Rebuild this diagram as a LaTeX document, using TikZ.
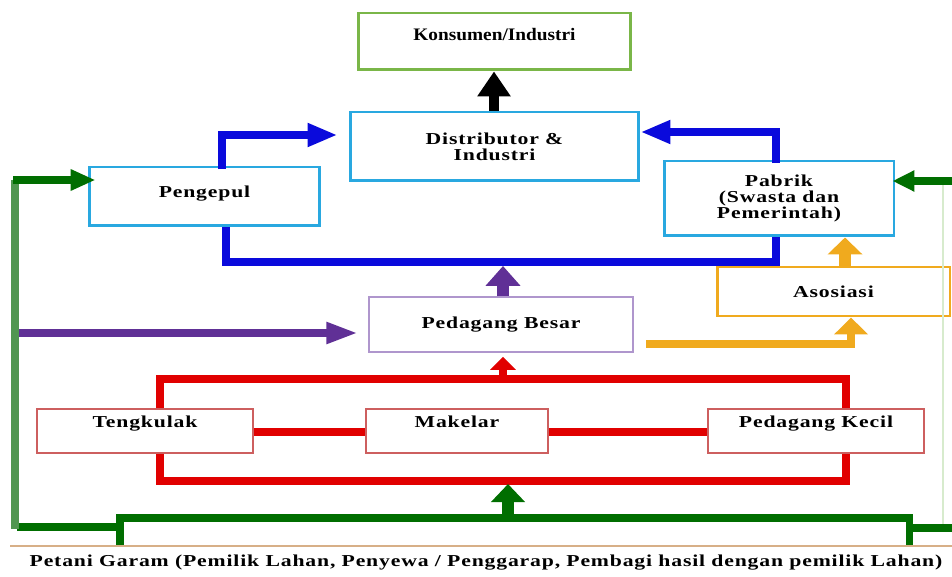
\documentclass[tikz,border=0pt]{standalone}
\usepackage{fontspec}
\setmainfont{Liberation Serif}
\newfontfamily\boxfont[FakeStretch=1.3,LetterSpace=5]{Liberation Serif}
\newfontfamily\topfont[FakeStretch=1.1]{Liberation Serif}
\usetikzlibrary{arrows.meta}

\definecolor{konsumgreen}{RGB}{122,182,72}
\definecolor{cyanbox}{RGB}{41,168,224}
\definecolor{flowblue}{RGB}{10,10,220}
\definecolor{flowpurple}{RGB}{96,48,150}
\definecolor{lavender}{RGB}{175,150,205}
\definecolor{floworange}{RGB}{240,170,30}
\definecolor{flowred}{RGB}{225,0,0}
\definecolor{redbox}{RGB}{205,95,95}
\definecolor{darkgreen}{RGB}{0,110,0}
\definecolor{midgreen}{RGB}{80,150,80}
\definecolor{palegreen}{RGB}{215,235,205}
\definecolor{tanline}{RGB}{215,175,135}

\tikzset{
    lbl/.style={text height=7pt,text depth=#1},
    lbl/.default=0.6pt
}

\begin{document}
\begin{tikzpicture}[x=0.02cm,y=-0.02cm]

    \useasboundingbox (0,0) rectangle (952,577);

    \begin{scope}[every node/.style={rectangle,draw,fill=white,inner sep=0pt,align=center,font=\boxfont\bfseries\fontsize{9.5}{9.2}\selectfont}]
        \node[draw=konsumgreen,line width=1.7pt,minimum width=5.46cm,minimum height=1.14cm,lbl=8pt,font=\topfont\bfseries\fontsize{10}{12}\selectfont] (konsumen) at (494.5,41.5) {Konsumen/Industri};
        \node[draw=cyanbox,line width=1.7pt,minimum width=5.78cm,minimum height=1.38cm] (distributor) at (494.5,146.5) {Distributor \&\\Industri};
        \node[draw=cyanbox,line width=1.7pt,minimum width=4.62cm,minimum height=1.18cm,lbl=5.8pt] (pengepul) at (204.5,196.5) {Pengepul};
        \node[draw=cyanbox,line width=1.7pt,minimum width=4.6cm,minimum height=1.5cm] (pabrik) at (779,198.5) {Pabrik\\(Swasta dan\\Pemerintah)};
        \node[draw=lavender,line width=0.9pt,minimum width=5.28cm,minimum height=1.1cm,lbl=2pt] (besar) at (501,324.5) {Pedagang Besar};
        \node[draw=floworange,line width=1.7pt,minimum width=4.66cm,minimum height=0.98cm,lbl] (asosiasi) at (833.5,291.5) {Asosiasi};
        \node[draw=redbox,line width=0.9pt,minimum width=4.32cm,minimum height=0.88cm,lbl=10.8pt] (tengkulak) at (145,431) {Tengkulak};
        \node[draw=redbox,line width=0.9pt,minimum width=3.64cm,minimum height=0.88cm,lbl=10.8pt] (makelar) at (457,431) {Makelar};
        \node[draw=redbox,line width=0.9pt,minimum width=4.32cm,minimum height=0.88cm,lbl=10.8pt] (kecil) at (816,431) {Pedagang Kecil};
        \node[draw=none,fill=none,lbl] (petani) at (486,561) {Petani Garam (Pemilik Lahan, Penyewa / Penggarap, Pembagi hasil dengan pemilik Lahan)};
    \end{scope}

    % Distributor ke konsumen
    \draw[line width=6.2pt,-{Triangle[length=0.5cm,width=0.64cm]}] (distributor.north -| 494,0) -- (konsumen.south -| 494,0);

    \begin{scope}[every path/.style={draw=flowblue,line width=4.5pt}]
        \draw[-{Triangle[length=0.6cm,width=0.44cm]},shorten >=0.22cm] ([yshift=-2pt]pengepul.north -| 222,0) |- (distributor.west |- 0,135);
        \draw[-{Triangle[length=0.6cm,width=0.44cm]}] ([yshift=-2pt]pabrik.north -| 776,0) |- (distributor.east |- 0,132);
        \draw (pengepul.south -| 226,0) |- (776,262) -- (pabrik.south -| 776,0);
    \end{scope}

    \begin{scope}[every path/.style={draw=flowpurple}]
        \draw[line width=6.8pt,-{Triangle[length=0.4cm,width=0.68cm]}] (besar.north -| 503,0) -- (503,266);
        \draw[line width=4.5pt,-{Triangle[length=0.64cm,width=0.4cm]},shorten >=0.2cm] (12,333) -- (besar.west |- 0,333);
    \end{scope}

    \begin{scope}[every path/.style={draw=floworange}]
        \draw[line width=6.8pt,-{Triangle[length=0.34cm,width=0.68cm]}] (asosiasi.north -| 845,0) -- (pabrik.south -| 845,0);
        \draw[line width=4.5pt,-{Triangle[length=0.34cm,width=0.66cm]}] (646,344) -| (asosiasi.south -| 851,0);
    \end{scope}

    \begin{scope}[every path/.style={draw=flowred,line width=4.5pt}]
        \draw (tengkulak.north -| 160,0) |- (846,379) -- (kecil.north -| 846,0);
        \draw (tengkulak.south -| 160,0) |- (846,481) -- (kecil.south -| 846,0);
        \draw (tengkulak.east |- 0,432) -- (makelar.west |- 0,432);
        \draw (makelar.east |- 0,432) -- (kecil.west |- 0,432);
        \draw[-{Triangle[length=0.26cm,width=0.5cm]},shorten >=0.08cm] (503,379) -- (besar.south -| 503,0);
    \end{scope}

    \begin{scope}[every path/.style={draw=darkgreen,line width=4pt}]
        \draw (120,545) -- (120,518) -- (909,518) -- (909,545);
        \draw[line width=6.8pt,-{Triangle[length=0.36cm,width=0.66cm]}] (508,518) -- (508,484);
        \draw (120,527) -- (17,527);
        \draw[draw=midgreen,line width=4.5pt] (15,529) -- (15,180);
        \draw[-{Triangle[length=0.5cm,width=0.4cm]},shorten >=-0.16cm] (13,180) -- (pengepul.west |- 0,180);
        \draw[draw=palegreen,line width=1.5pt] (943,181) -- (943,528);
        \draw (909,528) -- (952,528);
        \draw[-{Triangle[length=0.44cm,width=0.4cm]},shorten >=-0.06cm] (952,181) -- (pabrik.east |- 0,181);
    \end{scope}

    \draw[tanline,line width=0.8pt] (10,546) -- (952,546);

\end{tikzpicture}
\end{document}
